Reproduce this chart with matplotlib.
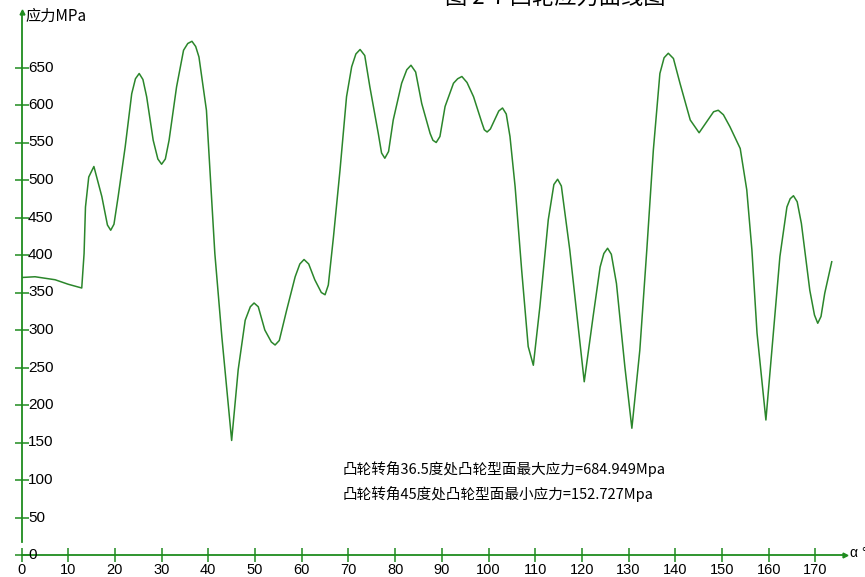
import matplotlib
matplotlib.use('Agg')
import matplotlib.pyplot as plt

plt.rcParams['font.family'] = ['Liberation Sans', 'Noto Sans CJK SC', 'DejaVu Sans']

# 凸轮转角 (度)
angle = [0, 2.9, 7.2, 10.0, 12.9, 13.4, 13.7, 14.4, 15.5, 17.2, 18.4, 19.1, 19.8, 20.7, 22.2, 23.6, 24.4, 25.2,
         26.0, 26.8, 28.2, 29.2, 30.0, 30.8, 31.6, 33.2, 34.7, 35.6, 36.5, 37.3, 38.0, 39.6, 41.4, 42.9, 45.0,
         46.4, 47.9, 49.0, 49.8, 50.7, 52.1, 53.5, 54.3, 55.2, 56.8, 58.6, 59.6, 60.5, 61.5, 62.8, 64.2, 65.0,
         65.7, 66.8, 68.2, 69.6, 70.7, 71.6, 72.5, 73.5, 74.6, 76.4, 77.1, 77.8, 78.6, 79.6, 81.4, 82.5, 83.4,
         84.4, 85.7, 87.5, 88.1, 88.8, 89.6, 90.7, 92.5, 93.4, 94.3, 95.4, 96.8, 98.6, 99.1, 99.7, 100.4, 101.3,
         102.2, 103.0, 103.8, 104.6, 105.7, 107.1, 108.5, 109.6, 111.0, 112.8, 114.0, 114.8, 115.6, 117.4,
         118.8, 120.5, 122.4, 123.9, 124.7, 125.5, 126.3, 127.4, 129.2, 130.7, 132.4, 133.9, 135.3, 136.7,
         137.6, 138.5, 139.6, 141.0, 143.2, 145.1, 147.2, 148.2, 149.2, 150.3, 151.7, 153.9, 155.3, 156.4,
         157.5, 159.4, 161.0, 162.4, 163.9, 164.6, 165.3, 166.1, 167.0, 168.8, 169.8, 170.5, 171.2, 172.0, 173.5]
# 凸轮型面应力 (MPa)
stress = [370, 371, 367, 361, 356, 402, 464, 504, 518, 478, 440, 433, 441, 478, 544, 615, 635, 642,
          634, 611, 553, 528, 521, 528, 553, 624, 673, 682, 684.949, 678, 664, 593, 402, 291, 152.727,
          247, 313, 331, 336, 331, 300, 284, 280, 286, 327, 371, 388, 394, 388, 367, 350, 347,
          360, 424, 513, 611, 651, 668, 674, 666, 624, 562, 536, 529, 538, 580, 629, 647, 653,
          644, 602, 562, 553, 550, 558, 598, 629, 635, 638, 630, 611, 576, 567, 564, 568, 580,
          592, 596, 588, 558, 491, 380, 278, 253, 331, 447, 494, 501, 492, 407,
          327, 231, 318, 384, 402, 409, 401, 362, 251, 169, 273, 407, 540, 642,
          663, 669, 662, 629, 580, 563, 582, 591, 593, 587, 571, 542, 487, 407,
          296, 180, 296, 398, 464, 475, 479, 471, 442, 353, 320, 309, 318, 349, 391]

xticks = list(range(0, 171, 10))
yticks = list(range(0, 651, 50))

axis_green = '#1f8c1f'
line_green = '#2b862b'

fig = plt.figure(figsize=(8.65, 5.77), dpi=100)
ax = fig.add_axes([21.5 / 865, 22 / 577, (845 - 21.5) / 865, (555 - 12) / 577])
ax.plot(angle, stress, color=line_green, lw=1.1)

ax.set_xlim(0, (845 - 21.5) / 4.67)
ax.set_ylim(0, 543 / 0.75)

for s in ['top', 'right']:
    ax.spines[s].set_visible(False)
ax.spines['left'].set_color(axis_green)
ax.spines['bottom'].set_color(axis_green)
ax.spines['left'].set_linewidth(1.3)
ax.spines['bottom'].set_linewidth(1.3)
ax.spines['left'].set_bounds(17, 543 / 0.75)

ax.set_xticks(xticks)
ax.set_yticks(yticks)
ax.tick_params(axis='both', direction='inout', length=10, width=1.1, color=axis_green,
               labelsize=10.5, labelcolor='black')
ax.tick_params(axis='x', pad=1)
# 纵轴刻度数字写在轴线右侧
ax.tick_params(axis='y', labelleft=False, labelright=False)
for t in yticks:
    ax.text(1.4, t, str(t), ha='left', va='center', fontsize=11, color='black')

# 坐标轴箭头
ax.plot(1, 0, '>', color=axis_green, ms=3.5, transform=ax.transAxes, clip_on=False)
ax.plot(0, 1, '^', color=axis_green, ms=3.5, transform=ax.transAxes, clip_on=False)

ax.text(0.9, 718, '应力MPa', ha='left', va='center', fontsize=11,
        family=['Noto Sans CJK SC', 'DejaVu Sans'])
fig.text(850 / 865, (577 - 553) / 577, 'α °', ha='left', va='center', fontsize=10)

ax.text(68.8, 114.7, '凸轮转角36.5度处凸轮型面最大应力=684.949Mpa', ha='left', va='center',
        fontsize=10.5, family=['Noto Sans CJK SC', 'DejaVu Sans'])
ax.text(68.8, 81.3, '凸轮转角45度处凸轮型面最小应力=152.727Mpa', ha='left', va='center',
        fontsize=10.5, family=['Noto Sans CJK SC', 'DejaVu Sans'])

fig.text(555 / 865, 1.005, '图 2-7 凸轮应力曲线图', ha='center', va='center', fontsize=16,
         family=['Noto Sans CJK SC', 'DejaVu Sans'])

fig.savefig('out.png', dpi=100)
